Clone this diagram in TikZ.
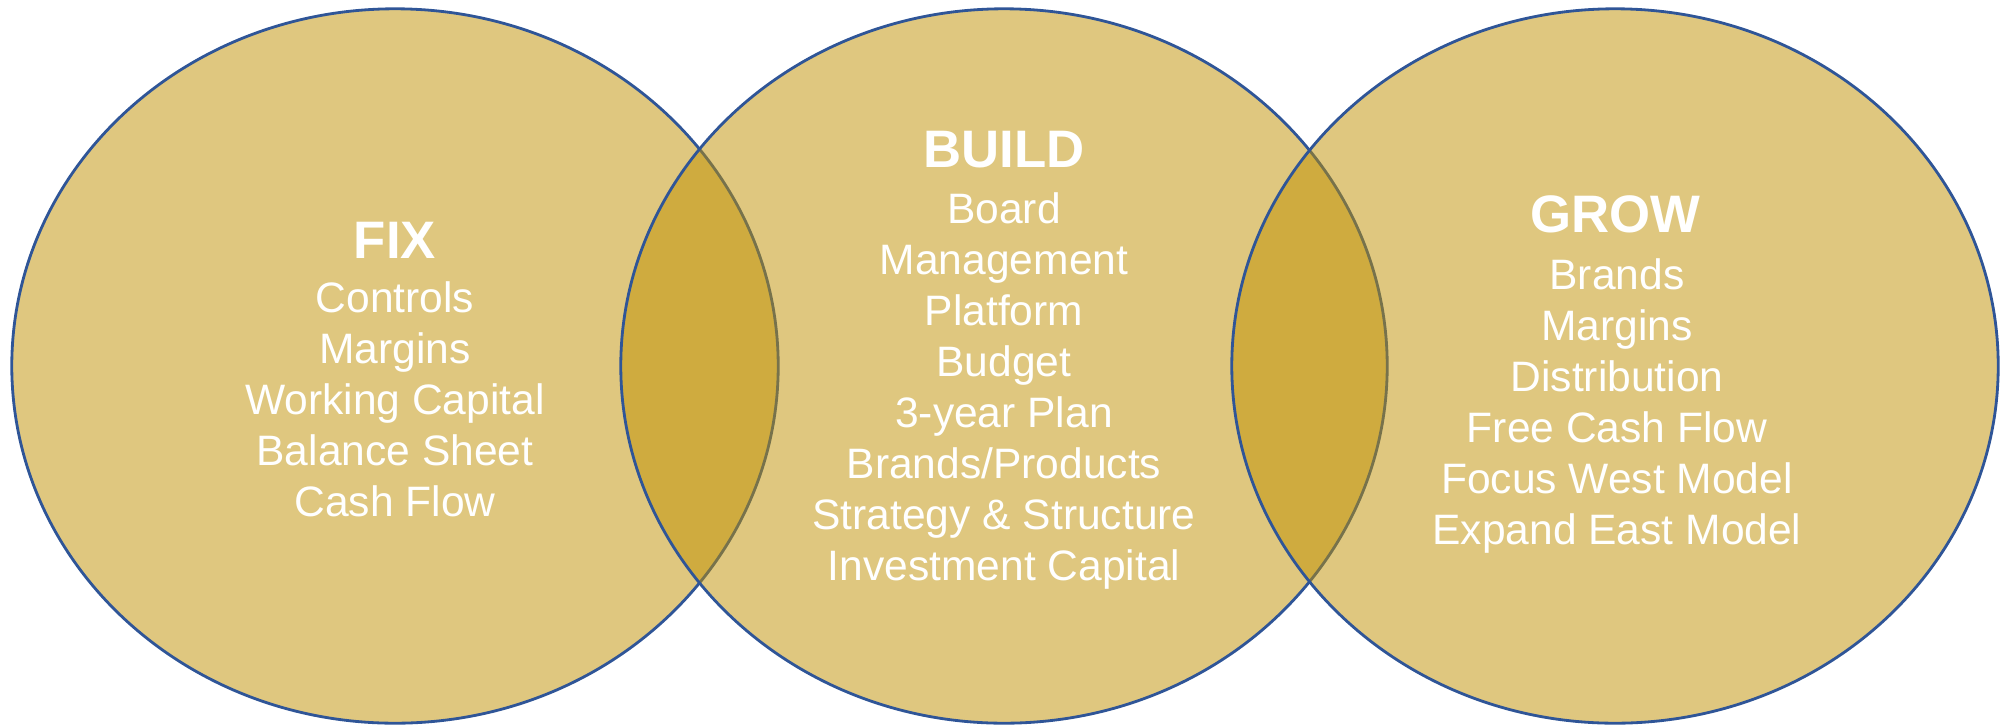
\documentclass[tikz,border=0pt]{standalone}
\usepackage{fontspec}
\setmainfont{Liberation Sans}
\usetikzlibrary{shapes.geometric}
\definecolor{ringgold}{RGB}{191,144,0}
\definecolor{ringblue}{RGB}{47,85,151}
\tikzset{
  ring/.style={ellipse, draw=ringblue, line width=0.8pt, fill=ringgold, fill opacity=0.5,
    minimum width=7.66cm, minimum height=7.14cm, inner sep=0pt},
  head/.style={text=white, font=\bfseries\fontsize{15}{18}\selectfont},
  items/.style={text=white, align=center, font=\fontsize{12.1}{14.5}\selectfont}
}
\begin{document}
\begin{tikzpicture}[x=0.01cm, y=-0.01cm]
      \useasboundingbox (0,0) rectangle (2000,724);
      \node[ring] (fix) at (395,366){};
      \node[ring] (build) at (1004,366){};
      \node[ring] (grow) at (1615,366){};

      \node[head] (fixhead) at (395,240){FIX};
      \node[items] (fixlist) at (395,399){Controls\\Margins\\Working Capital\\Balance Sheet\\Cash Flow};
      \node[head] (buildhead) at (1004,150){BUILD};
      \node[items] (buildlist) at (1004,391){Board\\Management\\Platform\\Budget\\3-year Plan\\Brands/Products\\Strategy \& Structure\\Investment Capital};
      \node[head] (growhead) at (1615,214){GROW};
      \node[items] (growlist) at (1617,406){Brands\\Margins\\Distribution\\Free Cash Flow\\Focus West Model\\Expand East Model};

    \end{tikzpicture}
\end{document}
